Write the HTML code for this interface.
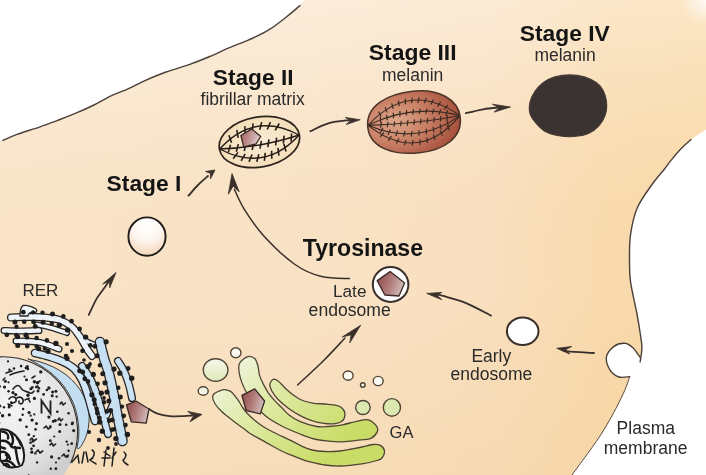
<!DOCTYPE html><html><head><meta charset="utf-8"><style>html,body{margin:0;padding:0;background:#fff;}svg{display:block;will-change:transform;}text{font-family:"Liberation Sans",sans-serif;}</style></head><body>
<svg width="706" height="475" viewBox="0 0 706 475">
<defs>
<linearGradient id="bgx" x1="0" y1="0" x2="706" y2="0" gradientUnits="userSpaceOnUse">
<stop offset="0" stop-color="#f9e4c8"/><stop offset="0.45" stop-color="#f9e2c5"/><stop offset="0.7" stop-color="#f9dfbe"/><stop offset="0.86" stop-color="#f9daad"/><stop offset="1" stop-color="#f9d9a8"/></linearGradient>
<linearGradient id="bgy" x1="0" y1="0" x2="0" y2="475" gradientUnits="userSpaceOnUse">
<stop offset="0" stop-color="#ffffff" stop-opacity="0.34"/><stop offset="0.3" stop-color="#ffffff" stop-opacity="0.08"/><stop offset="0.6" stop-color="#efc585" stop-opacity="0"/><stop offset="1" stop-color="#efc585" stop-opacity="0.2"/></linearGradient>
<radialGradient id="st1" cx="0.5" cy="0.2" r="0.8"><stop offset="0" stop-color="#ffffff"/><stop offset="0.5" stop-color="#fdf6ef"/><stop offset="1" stop-color="#f3d5b8"/></radialGradient>
<linearGradient id="pent" x1="0" y1="0" x2="1" y2="0.3"><stop offset="0" stop-color="#8f4a48"/><stop offset="0.55" stop-color="#b07a78"/><stop offset="1" stop-color="#cdb6b4"/></linearGradient>
<radialGradient id="st3" cx="0.3" cy="0.45" r="0.75"><stop offset="0" stop-color="#dea88a"/><stop offset="0.5" stop-color="#c67c62"/><stop offset="1" stop-color="#a24b38"/></radialGradient>
<linearGradient id="pent2" x1="0" y1="0" x2="1" y2="0.3"><stop offset="0" stop-color="#a45e5c"/><stop offset="0.6" stop-color="#c49a98"/><stop offset="1" stop-color="#dccaca"/></linearGradient>
<radialGradient id="st2" cx="0.5" cy="0.5" r="0.6"><stop offset="0" stop-color="#faecd6"/><stop offset="1" stop-color="#f3dcb4"/></radialGradient>
<linearGradient id="gol" x1="225" y1="365" x2="320" y2="462" gradientUnits="userSpaceOnUse"><stop offset="0" stop-color="#f1f5e2"/><stop offset="0.4" stop-color="#dfeaa6"/><stop offset="1" stop-color="#cadc68"/></linearGradient>
<linearGradient id="golv" x1="0" y1="0" x2="0" y2="1"><stop offset="0" stop-color="#f6f7ea"/><stop offset="1" stop-color="#dfeab8"/></linearGradient>
<radialGradient id="nuc" cx="10" cy="405" r="80" gradientUnits="userSpaceOnUse"><stop offset="0" stop-color="#f4f4f4"/><stop offset="0.55" stop-color="#e8e8e8"/><stop offset="0.85" stop-color="#dadada"/><stop offset="1" stop-color="#cecece"/></radialGradient>
<radialGradient id="tr" cx="706" cy="0" r="26" gradientUnits="userSpaceOnUse"><stop offset="0" stop-color="#ffffff" stop-opacity="0.8"/><stop offset="1" stop-color="#ffffff" stop-opacity="0"/></radialGradient>
</defs>
<rect width="706" height="475" fill="#ffffff"/>
<path d="M0,141 L3,140.4 C5.3,139.4 10.8,136.7 17,134.4 C23.2,132.1 32.8,129.3 40,126.8 C47.2,124.3 53.8,121.8 60,119.5 C66.2,117.2 71.3,115.1 77,112.7 C82.7,110.3 88.3,107.8 94,105 C99.7,102.2 105.3,98.6 111,95.9 C116.7,93.2 122.3,91.5 128,88.9 C133.7,86.4 138.7,83.4 145,80.6 C151.3,77.8 158.5,74.7 166,72 C173.5,69.3 182.5,67 189.8,64.4 C197.1,61.8 203.1,59.3 209.7,56.5 C216.3,53.7 222.9,50.4 229.5,47.6 C236.1,44.8 242.7,42.7 249.3,39.7 C255.9,36.7 262.5,33.8 269.1,29.7 C275.7,25.6 283.9,18.9 289,14.9 C294.1,10.9 298.2,7 300,5.4 L304,0 L706,0 L706,129.5 L699,134 L691,139.5 C689.1,141.2 683.1,146.5 679.8,150 C676.5,153.5 673.6,157.2 671,160.4 C668.4,163.6 667.4,165.3 664.3,169.2 C661.2,173.1 656.9,177.6 652.4,184 C647.9,190.4 640.9,199.3 637.3,207.8 C633.6,216.3 631.8,226.1 630.5,234.8 C629.2,243.5 629.5,252.2 629.5,260 C629.5,267.8 629.3,272.8 630.5,281.6 C631.7,290.4 635.2,304.6 636.8,313 C638.4,321.4 639.2,326.7 640,332 C640.8,337.3 641.5,341.5 641.8,345 C642,348.5 641.8,350.2 641.5,353 C641.2,355.8 640.3,360.5 640.1,362 L639.8,357 C638.6,355.4 635.4,350 632.9,347.7 C630.4,345.4 627.9,343.5 624.7,343.3 C621.6,343.1 617,344.1 614,346.4 C611,348.7 607,353.2 606.4,357.2 C605.8,361.2 608.1,367.1 610.2,370.4 C612.3,373.7 615.8,375.9 619,377 C622.2,378.1 627.9,376.8 629.7,376.7 L629.7,376.7 C628.8,379.2 626.8,385.8 624,392 C621.2,398.2 617,406.7 613,414 C609,421.3 604.8,428.6 600,436 C595.2,443.4 588.7,452 584,458.5 C579.3,465 574,472.2 572,475 L0,475 Z" fill="url(#bgx)"/>
<path d="M0,141 L3,140.4 C5.3,139.4 10.8,136.7 17,134.4 C23.2,132.1 32.8,129.3 40,126.8 C47.2,124.3 53.8,121.8 60,119.5 C66.2,117.2 71.3,115.1 77,112.7 C82.7,110.3 88.3,107.8 94,105 C99.7,102.2 105.3,98.6 111,95.9 C116.7,93.2 122.3,91.5 128,88.9 C133.7,86.4 138.7,83.4 145,80.6 C151.3,77.8 158.5,74.7 166,72 C173.5,69.3 182.5,67 189.8,64.4 C197.1,61.8 203.1,59.3 209.7,56.5 C216.3,53.7 222.9,50.4 229.5,47.6 C236.1,44.8 242.7,42.7 249.3,39.7 C255.9,36.7 262.5,33.8 269.1,29.7 C275.7,25.6 283.9,18.9 289,14.9 C294.1,10.9 298.2,7 300,5.4 L304,0 L706,0 L706,129.5 L699,134 L691,139.5 C689.1,141.2 683.1,146.5 679.8,150 C676.5,153.5 673.6,157.2 671,160.4 C668.4,163.6 667.4,165.3 664.3,169.2 C661.2,173.1 656.9,177.6 652.4,184 C647.9,190.4 640.9,199.3 637.3,207.8 C633.6,216.3 631.8,226.1 630.5,234.8 C629.2,243.5 629.5,252.2 629.5,260 C629.5,267.8 629.3,272.8 630.5,281.6 C631.7,290.4 635.2,304.6 636.8,313 C638.4,321.4 639.2,326.7 640,332 C640.8,337.3 641.5,341.5 641.8,345 C642,348.5 641.8,350.2 641.5,353 C641.2,355.8 640.3,360.5 640.1,362 L639.8,357 C638.6,355.4 635.4,350 632.9,347.7 C630.4,345.4 627.9,343.5 624.7,343.3 C621.6,343.1 617,344.1 614,346.4 C611,348.7 607,353.2 606.4,357.2 C605.8,361.2 608.1,367.1 610.2,370.4 C612.3,373.7 615.8,375.9 619,377 C622.2,378.1 627.9,376.8 629.7,376.7 L629.7,376.7 C628.8,379.2 626.8,385.8 624,392 C621.2,398.2 617,406.7 613,414 C609,421.3 604.8,428.6 600,436 C595.2,443.4 588.7,452 584,458.5 C579.3,465 574,472.2 572,475 L0,475 Z" fill="url(#bgy)"/>
<rect x="670" y="0" width="36" height="30" fill="url(#tr)"/>
<path d="M3,140.4 C5.3,139.4 10.8,136.7 17,134.4 C23.2,132.1 32.8,129.3 40,126.8 C47.2,124.3 53.8,121.8 60,119.5 C66.2,117.2 71.3,115.1 77,112.7 C82.7,110.3 88.3,107.8 94,105 C99.7,102.2 105.3,98.6 111,95.9 C116.7,93.2 122.3,91.5 128,88.9 C133.7,86.4 138.7,83.4 145,80.6 C151.3,77.8 158.5,74.7 166,72 C173.5,69.3 182.5,67 189.8,64.4 C197.1,61.8 203.1,59.3 209.7,56.5 C216.3,53.7 222.9,50.4 229.5,47.6 C236.1,44.8 242.7,42.7 249.3,39.7 C255.9,36.7 262.5,33.8 269.1,29.7 C275.7,25.6 283.9,18.9 289,14.9 C294.1,10.9 298.2,7 300,5.4" fill="none" stroke="#4a4038" stroke-width="1.4" stroke-linecap="round"/>
<path d="M691,139.5 C689.1,141.2 683.1,146.5 679.8,150 C676.5,153.5 673.6,157.2 671,160.4 C668.4,163.6 667.4,165.3 664.3,169.2 C661.2,173.1 656.9,177.6 652.4,184 C647.9,190.4 640.9,199.3 637.3,207.8 C633.6,216.3 631.8,226.1 630.5,234.8 C629.2,243.5 629.5,252.2 629.5,260 C629.5,267.8 629.3,272.8 630.5,281.6 C631.7,290.4 635.2,304.6 636.8,313 C638.4,321.4 639.2,326.7 640,332 C640.8,337.3 641.5,341.5 641.8,345 C642,348.5 641.8,350.2 641.5,353 C641.2,355.8 640.3,360.5 640.1,362" fill="none" stroke="#4a4038" stroke-width="1.4" stroke-linecap="round"/>
<path d="M639.8,357 C638.6,355.4 635.4,350 632.9,347.7 C630.4,345.4 627.9,343.5 624.7,343.3 C621.6,343.1 617,344.1 614,346.4 C611,348.7 607,353.2 606.4,357.2 C605.8,361.2 608.1,367.1 610.2,370.4 C612.3,373.7 615.8,375.9 619,377 C622.2,378.1 627.9,376.8 629.7,376.7" fill="none" stroke="#4a4038" stroke-width="1.4" stroke-linecap="round"/>
<path d="M629.7,376.7 C628.8,379.2 626.8,385.8 624,392 C621.2,398.2 617,406.7 613,414 C609,421.3 604.8,428.6 600,436 C595.2,443.4 588.7,452 584,458.5 C579.3,465 574,472.2 572,475" fill="none" stroke="#5a4c42" stroke-width="1.0" stroke-linecap="round"/>
<path d="M529.3,107.1 C529.5,104.1 530.3,100.4 531.8,97 C533.3,93.6 535.7,89.9 538.5,86.9 C541.3,84 544.7,81.2 548.6,79.3 C552.5,77.4 557.3,76.1 562.1,75.4 C566.9,74.8 572.4,74.8 577.2,75.4 C582,76.1 586.9,77.5 590.7,79.3 C594.5,81.1 597.6,83.3 600,86 C602.4,88.7 603.9,92.1 605,95.3 C606.1,98.5 606.7,102 606.7,105.4 C606.7,108.8 606.3,112.1 605,115.5 C603.7,118.9 601.8,122.6 599.1,125.6 C596.4,128.5 593.2,131.4 589,133.2 C584.8,135 578.9,136.1 573.9,136.5 C568.9,136.9 563.5,136.5 558.7,135.7 C553.9,134.9 549.1,133.6 545.3,131.5 C541.5,129.4 538.5,125.9 536,123.1 C533.5,120.3 531.5,117.4 530.4,114.7 C529.3,112 529.1,110 529.3,107.1Z" fill="#3b3331" stroke="#473a35" stroke-width="1.2"/>
<g transform="translate(414,122.2) rotate(-6)"><path d="M-46.5,0 C-46.5,-22 -22,-31 2,-31 C28,-31 46.5,-18 46.5,0 C46.5,20 28,31 2,31 C-22,31 -46.5,22 -46.5,0Z" fill="url(#st3)" stroke="#4a3328" stroke-width="1.5"/></g>
<g transform="translate(414,120.5) rotate(-6)"><path d="M-46.2,0 Q0,-40.6 46.2,0" fill="none" stroke="#3a2a22" stroke-width="1.1"/><line x1="-32.3" y1="-7.2" x2="-34.2" y2="-12.4" stroke="#3a2a22" stroke-width="1.2"/><line x1="-25.9" y1="-10.9" x2="-27.3" y2="-16.3" stroke="#3a2a22" stroke-width="1.2"/><line x1="-19.5" y1="-13.7" x2="-20.4" y2="-19.3" stroke="#3a2a22" stroke-width="1.2"/><line x1="-13.2" y1="-15.8" x2="-13.4" y2="-21.4" stroke="#3a2a22" stroke-width="1.2"/><line x1="-6.9" y1="-17.1" x2="-6.4" y2="-22.7" stroke="#3a2a22" stroke-width="1.2"/><line x1="-0.6" y1="-17.6" x2="0.6" y2="-23" stroke="#3a2a22" stroke-width="1.2"/><line x1="5.7" y1="-17.2" x2="7.6" y2="-22.5" stroke="#3a2a22" stroke-width="1.2"/><line x1="12.1" y1="-16.1" x2="14.5" y2="-21.1" stroke="#3a2a22" stroke-width="1.2"/><line x1="18.4" y1="-14.2" x2="21.5" y2="-18.9" stroke="#3a2a22" stroke-width="1.2"/><line x1="24.9" y1="-11.4" x2="28.4" y2="-15.7" stroke="#3a2a22" stroke-width="1.2"/><line x1="31.3" y1="-7.8" x2="35.2" y2="-11.8" stroke="#3a2a22" stroke-width="1.2"/><path d="M-46.2,0 Q0,-17.4 46.2,0" fill="none" stroke="#3a2a22" stroke-width="1.1"/><line x1="-33.1" y1="-1.4" x2="-33.4" y2="-7" stroke="#3a2a22" stroke-width="1.2"/><line x1="-26.6" y1="-3" x2="-26.6" y2="-8.6" stroke="#3a2a22" stroke-width="1.2"/><line x1="-20.1" y1="-4.3" x2="-19.8" y2="-9.9" stroke="#3a2a22" stroke-width="1.2"/><line x1="-13.6" y1="-5.2" x2="-13" y2="-10.8" stroke="#3a2a22" stroke-width="1.2"/><line x1="-7.1" y1="-5.8" x2="-6.2" y2="-11.3" stroke="#3a2a22" stroke-width="1.2"/><line x1="-0.6" y1="-6" x2="0.6" y2="-11.4" stroke="#3a2a22" stroke-width="1.2"/><line x1="5.9" y1="-5.8" x2="7.4" y2="-11.2" stroke="#3a2a22" stroke-width="1.2"/><line x1="12.4" y1="-5.3" x2="14.2" y2="-10.6" stroke="#3a2a22" stroke-width="1.2"/><line x1="18.9" y1="-4.5" x2="21" y2="-9.7" stroke="#3a2a22" stroke-width="1.2"/><line x1="25.5" y1="-3.3" x2="27.8" y2="-8.4" stroke="#3a2a22" stroke-width="1.2"/><line x1="32" y1="-1.7" x2="34.5" y2="-6.7" stroke="#3a2a22" stroke-width="1.2"/><path d="M-46.2,0 Q0,3.5 46.2,0" fill="none" stroke="#3a2a22" stroke-width="1.1"/><line x1="-34" y1="3.5" x2="-32.5" y2="-1.9" stroke="#3a2a22" stroke-width="1.2"/><line x1="-27.3" y1="3.9" x2="-25.9" y2="-1.5" stroke="#3a2a22" stroke-width="1.2"/><line x1="-20.6" y1="4.1" x2="-19.3" y2="-1.3" stroke="#3a2a22" stroke-width="1.2"/><line x1="-13.9" y1="4.3" x2="-12.7" y2="-1.1" stroke="#3a2a22" stroke-width="1.2"/><line x1="-7.3" y1="4.4" x2="-6" y2="-1" stroke="#3a2a22" stroke-width="1.2"/><line x1="-0.6" y1="4.5" x2="0.6" y2="-1" stroke="#3a2a22" stroke-width="1.2"/><line x1="6.1" y1="4.4" x2="7.2" y2="-1" stroke="#3a2a22" stroke-width="1.2"/><line x1="12.8" y1="4.3" x2="13.8" y2="-1.2" stroke="#3a2a22" stroke-width="1.2"/><line x1="19.5" y1="4.2" x2="20.5" y2="-1.3" stroke="#3a2a22" stroke-width="1.2"/><line x1="26.1" y1="3.9" x2="27.1" y2="-1.6" stroke="#3a2a22" stroke-width="1.2"/><line x1="32.8" y1="3.6" x2="33.7" y2="-1.9" stroke="#3a2a22" stroke-width="1.2"/><path d="M-46.2,0 Q0,26.1 46.2,0" fill="none" stroke="#3a2a22" stroke-width="1.1"/><line x1="-34.8" y1="8.6" x2="-31.7" y2="4" stroke="#3a2a22" stroke-width="1.2"/><line x1="-27.3" y1="11.4" x2="-24.5" y2="6.5" stroke="#3a2a22" stroke-width="1.2"/><line x1="-19.7" y1="13.5" x2="-17.3" y2="8.4" stroke="#3a2a22" stroke-width="1.2"/><line x1="-12" y1="14.9" x2="-10.1" y2="9.7" stroke="#3a2a22" stroke-width="1.2"/><line x1="-4.4" y1="15.7" x2="-3" y2="10.3" stroke="#3a2a22" stroke-width="1.2"/><line x1="3.2" y1="15.7" x2="4.2" y2="10.2" stroke="#3a2a22" stroke-width="1.2"/><line x1="10.9" y1="15.1" x2="11.3" y2="9.5" stroke="#3a2a22" stroke-width="1.2"/><line x1="18.5" y1="13.8" x2="18.4" y2="8.2" stroke="#3a2a22" stroke-width="1.2"/><line x1="26.1" y1="11.7" x2="25.6" y2="6.2" stroke="#3a2a22" stroke-width="1.2"/><line x1="33.8" y1="9" x2="32.8" y2="3.5" stroke="#3a2a22" stroke-width="1.2"/><path d="M-46.2,0 Q0,44.7 46.2,0" fill="none" stroke="#3a2a22" stroke-width="1.1"/><line x1="-35.3" y1="12.7" x2="-31.2" y2="8.8" stroke="#3a2a22" stroke-width="1.2"/><line x1="-27.7" y1="17.5" x2="-24.1" y2="13.2" stroke="#3a2a22" stroke-width="1.2"/><line x1="-20" y1="21.1" x2="-16.9" y2="16.4" stroke="#3a2a22" stroke-width="1.2"/><line x1="-12.3" y1="23.6" x2="-9.9" y2="18.5" stroke="#3a2a22" stroke-width="1.2"/><line x1="-4.5" y1="24.9" x2="-2.9" y2="19.5" stroke="#3a2a22" stroke-width="1.2"/><line x1="3.3" y1="25" x2="4.1" y2="19.4" stroke="#3a2a22" stroke-width="1.2"/><line x1="11.1" y1="23.8" x2="11" y2="18.2" stroke="#3a2a22" stroke-width="1.2"/><line x1="18.9" y1="21.5" x2="18" y2="16" stroke="#3a2a22" stroke-width="1.2"/><line x1="26.7" y1="18" x2="25.1" y2="12.6" stroke="#3a2a22" stroke-width="1.2"/><line x1="34.4" y1="13.3" x2="32.2" y2="8.2" stroke="#3a2a22" stroke-width="1.2"/></g>
<ellipse cx="259.4" cy="142" rx="40.6" ry="25" transform="rotate(-10 259.4 142)" fill="url(#st2)" stroke="#2e241e" stroke-width="1.7"/>
<g transform="translate(259.4,142) rotate(-10)"><path d="M-40.3,0 Q0,-31.4 40.3,0" fill="none" stroke="#251c17" stroke-width="1.4"/><line x1="-27.6" y1="-4" x2="-28.8" y2="-12" stroke="#251c17" stroke-width="1.6"/><line x1="-20.1" y1="-7.8" x2="-20.2" y2="-15.8" stroke="#251c17" stroke-width="1.6"/><line x1="-12.6" y1="-10.3" x2="-11.6" y2="-18.2" stroke="#251c17" stroke-width="1.6"/><line x1="-5.1" y1="-11.7" x2="-3" y2="-19.4" stroke="#251c17" stroke-width="1.6"/><line x1="2.4" y1="-11.9" x2="5.7" y2="-19.2" stroke="#251c17" stroke-width="1.6"/><line x1="9.9" y1="-10.9" x2="14.3" y2="-17.6" stroke="#251c17" stroke-width="1.6"/><line x1="17.5" y1="-8.8" x2="22.8" y2="-14.8" stroke="#251c17" stroke-width="1.6"/><path d="M-40.3,0 Q0,5.9 40.3,0" fill="none" stroke="#251c17" stroke-width="1.4"/><line x1="-32.4" y1="4.8" x2="-28.9" y2="-2.3" stroke="#251c17" stroke-width="1.6"/><line x1="-24.4" y1="5.6" x2="-21.1" y2="-1.6" stroke="#251c17" stroke-width="1.6"/><line x1="-16.5" y1="6.2" x2="-13.3" y2="-1.1" stroke="#251c17" stroke-width="1.6"/><line x1="-8.5" y1="6.6" x2="-5.6" y2="-0.9" stroke="#251c17" stroke-width="1.6"/><line x1="-0.6" y1="6.7" x2="2.2" y2="-0.8" stroke="#251c17" stroke-width="1.6"/><line x1="7.4" y1="6.6" x2="9.9" y2="-1" stroke="#251c17" stroke-width="1.6"/><line x1="15.4" y1="6.3" x2="17.7" y2="-1.4" stroke="#251c17" stroke-width="1.6"/><line x1="23.3" y1="5.7" x2="25.4" y2="-2" stroke="#251c17" stroke-width="1.6"/><line x1="31.3" y1="5" x2="33.2" y2="-2.8" stroke="#251c17" stroke-width="1.6"/><path d="M-40.3,0 Q0,31.4 40.3,0" fill="none" stroke="#251c17" stroke-width="1.4"/><line x1="-28.7" y1="12" x2="-22.9" y2="6.5" stroke="#251c17" stroke-width="1.6"/><line x1="-21.2" y1="15.4" x2="-16.1" y2="9.2" stroke="#251c17" stroke-width="1.6"/><line x1="-13.7" y1="17.8" x2="-9.4" y2="11" stroke="#251c17" stroke-width="1.6"/><line x1="-6.1" y1="19.1" x2="-2.7" y2="11.9" stroke="#251c17" stroke-width="1.6"/><line x1="1.6" y1="19.4" x2="3.9" y2="11.8" stroke="#251c17" stroke-width="1.6"/><line x1="9.3" y1="18.7" x2="10.5" y2="10.8" stroke="#251c17" stroke-width="1.6"/><line x1="16.9" y1="16.9" x2="17.2" y2="8.9" stroke="#251c17" stroke-width="1.6"/><line x1="24.5" y1="14" x2="23.8" y2="6.1" stroke="#251c17" stroke-width="1.6"/></g>
<path d="M240.9,135.5 L251.8,128.9 L260.7,136.5 L256,144 L243.7,146.9Z" fill="url(#pent2)" stroke="#3a2a26" stroke-width="1.3" stroke-linejoin="round"/>
<ellipse cx="147" cy="236.6" rx="18.6" ry="19.2" fill="url(#st1)" stroke="#1e1a18" stroke-width="1.9"/>
<ellipse cx="390.6" cy="284.5" rx="17.8" ry="17.4" fill="#ffffff" stroke="#3a302b" stroke-width="2"/>
<path d="M390.1,271.6 L404.6,283.1 L399,296 L384.8,295 L377.2,280.6Z" fill="url(#pent)" stroke="#3a2a26" stroke-width="1.3" stroke-linejoin="round"/>
<ellipse cx="522.7" cy="331.2" rx="15.8" ry="13.8" fill="#ffffff" stroke="#3a302b" stroke-width="2"/>
<path d="M310.3,131.2 C313.4,129.9 322.4,125.1 329,123.2 C335.6,121.3 346.5,120.5 350,120" fill="none" stroke="#3a302b" stroke-width="1.8" stroke-linecap="round"/>
<path d="M360.2,119.8 L345.4,117.4 L350.8,120.6 L346,124.6Z" fill="#3a302b" stroke="#3a302b" stroke-width="0.8" stroke-linejoin="round"/>
<path d="M465.8,113.2 C468.7,112.5 477.6,110.3 483.3,109.3 C489,108.3 497.2,107.6 500,107.3" fill="none" stroke="#3a302b" stroke-width="1.8" stroke-linecap="round"/>
<path d="M510.5,107 L492.4,104.2 L499.3,107.7 L494.1,112.1Z" fill="#3a302b" stroke="#3a302b" stroke-width="0.8" stroke-linejoin="round"/>
<path d="M188.5,195.7 C190.1,193.9 194.8,188.3 198,185 C201.2,181.7 206.3,177.5 208,176" fill="none" stroke="#3a302b" stroke-width="1.8" stroke-linecap="round"/>
<path d="M215,170 L205.5,171.5 L210.4,173.3 L210.5,178.8Z" fill="#3a302b" stroke="#3a302b" stroke-width="0.8" stroke-linejoin="round"/>
<path d="M349.4,278.5 C344.8,278.2 330.7,278.9 321.6,276.6 C312.5,274.3 304.7,271.4 295,264.5 C285.3,257.6 271.9,244.7 263.4,235.4 C254.9,226.1 248.8,216.5 244,208.8 C239.2,201.1 236,192.6 234.4,189.4" fill="none" stroke="#3a302b" stroke-width="1.5" stroke-linecap="round"/>
<path d="M232,173.6 L228.3,194.2 L233.1,186.2 L239.2,191.8Z" fill="#3a302b" stroke="#3a302b" stroke-width="0.8" stroke-linejoin="round"/>
<path d="M491,315.6 C486.9,313.6 474.5,306.5 466.7,303.3 C458.9,300.1 449.3,297.7 444,296.2 C438.7,294.7 436.5,294.8 435,294.5" fill="none" stroke="#3a302b" stroke-width="1.8" stroke-linecap="round"/>
<path d="M426.7,293.4 L441.9,292.4 L436.6,295.1 L441.9,299.7Z" fill="#3a302b" stroke="#3a302b" stroke-width="0.8" stroke-linejoin="round"/>
<path d="M594,353 C589.6,352.7 573.1,351.8 567.8,351.3 C562.5,350.8 563,350.2 562,350" fill="none" stroke="#3a302b" stroke-width="1.8" stroke-linecap="round"/>
<path d="M556.8,348.3 L571.7,346.5 L565.8,349.6 L569.7,354Z" fill="#3a302b" stroke="#3a302b" stroke-width="0.8" stroke-linejoin="round"/>
<path d="M297.6,385 C302,380.9 315.8,368.3 323.7,360.5 C331.6,352.7 341.4,341.8 345,338" fill="none" stroke="#3a302b" stroke-width="1.5" stroke-linecap="round"/>
<path d="M360.7,325.2 L342.2,337 L351.1,334.8 L349.8,342.8Z" fill="#3a302b" stroke="#3a302b" stroke-width="0.8" stroke-linejoin="round"/>
<path d="M88.8,314.9 C90.1,312.3 93.7,303.8 96.4,299.1 C99.2,294.4 103,289.7 105.3,286.5 C107.6,283.3 109.2,281.1 110,280" fill="none" stroke="#3a302b" stroke-width="1.8" stroke-linecap="round"/>
<path d="M116,272.6 L102.7,284 L109.6,281.2 L109.7,287.8Z" fill="#3a302b" stroke="#3a302b" stroke-width="0.8" stroke-linejoin="round"/>
<path d="M149,409 C150.3,409.7 153.4,412.1 156.8,413.3 C160.2,414.5 165.1,415.6 169.6,416.1 C174.1,416.6 180,416.2 183.7,416.1 C187.4,416 190.6,415.6 192,415.5" fill="none" stroke="#3a302b" stroke-width="1.8" stroke-linecap="round"/>
<path d="M202,414.4 L187.7,411.4 L193.5,415.8 L190,421.8Z" fill="#3a302b" stroke="#3a302b" stroke-width="0.8" stroke-linejoin="round"/>
<path d="M218,391.5 C219.8,390.7 221.9,389.7 224,389.7 C226.1,389.7 228.6,390.3 230.5,391.4 C232.4,392.5 233.9,394.7 235.3,396.4 C236.7,398.1 237.8,399.8 239.1,401.7 C240.4,403.6 241.4,405.9 242.9,408 C244.4,410.1 246.2,412.3 248.3,414.5 C250.4,416.7 253.1,419 255.5,421 C257.9,423 260.4,424.8 263,426.5 C265.6,428.2 267.9,429.4 271,431 C274.1,432.6 278.1,434.5 281.6,436.2 C285.1,437.9 288.6,439.5 292.1,441.2 C295.6,442.9 299.3,445.1 302.6,446.6 C305.9,448.1 308.3,449.2 312,450 C315.7,450.8 320.3,451.3 325,451.5 C329.7,451.7 335.5,451.4 340,451 C344.5,450.6 348.3,449.7 352,449 C355.7,448.3 358.5,447.8 362,447 C365.5,446.2 369.9,444.7 373,444.5 C376.1,444.3 378.8,444.5 380.7,445.6 C382.6,446.7 384.3,448.9 384.5,451 C384.7,453.1 383.3,456.4 382,458 C380.7,459.6 380.1,459.5 376.8,460.5 C373.5,461.5 368.1,462.9 362,463.8 C355.9,464.7 346.2,465.8 340,466 C333.8,466.2 330,465.7 325,465 C320,464.3 313.7,462.7 310,461.8 C306.3,460.9 305.6,460.7 302.6,459.6 C299.6,458.5 295.5,456.8 292,455.4 C288.5,454 285.1,452.7 281.6,451 C278.1,449.3 274.5,447.2 271,445.3 C267.5,443.4 264,441.4 260.5,439.4 C257,437.4 252.9,435.4 250,433.5 C247.1,431.6 245.3,429.8 242.9,428 C240.5,426.2 237.8,424.4 235.3,422.5 C232.8,420.6 230,418.5 227.7,416.6 C225.4,414.7 223.4,413.3 221.4,411.3 C219.4,409.3 216.9,406.6 215.5,404.5 C214.1,402.4 213.1,400.2 212.8,398.5 C212.5,396.8 212.6,395.7 213.5,394.5 C214.4,393.3 216.2,392.3 218,391.5Z" fill="url(#gol)" stroke="#4f4535" stroke-width="1.3"/>
<path d="M247.7,356.6 C250.3,355.9 253.3,357.2 255,358.8 C256.7,360.4 257.2,363.5 258,366.2 C258.8,368.9 258.6,372.2 259.5,375.1 C260.4,378.1 261.7,380.9 263.2,383.9 C264.7,386.8 266.5,390.1 268.3,392.8 C270.1,395.5 272,397.7 274.2,400.1 C276.4,402.6 279.1,405 281.6,407.5 C284.1,410 286,412.7 289,415 C292,417.3 295.1,419.4 299.7,421.3 C304.3,423.2 311.9,425.6 316.7,426.5 C321.5,427.4 324,426.8 328.3,426.5 C332.6,426.2 337.8,425.7 342.5,424.8 C347.2,423.9 352.4,422.1 356.7,421.3 C360.9,420.5 364.7,419.1 368,419.9 C371.3,420.7 375,424.2 376.5,426.2 C378,428.2 378.1,429.9 377.2,431.9 C376.2,433.9 374.2,436.9 370.8,438.3 C367.4,439.7 361.4,439.8 356.7,440.4 C352,441 347.2,441.7 342.5,441.8 C337.8,441.9 333,441.6 328.3,441.1 C323.6,440.6 318.9,440.2 314.2,439 C309.5,437.8 305.6,436.2 300,434 C294.4,431.8 286.5,428.5 280.8,425.5 C275.1,422.5 270.1,419.6 265.6,416 C261.1,412.4 257.2,408 254,404 C250.8,400 248.2,395.6 246.2,392 C244.2,388.4 243,385.7 241.8,382.4 C240.6,379.1 239.5,375.3 239.1,372.1 C238.7,368.9 238.2,365.9 239.6,363.3 C241,360.7 245.1,357.4 247.7,356.6Z" fill="url(#gol)" stroke="#4f4535" stroke-width="1.3"/>
<path d="M273.5,379.2 C274.9,378.7 276.4,379.8 278.4,381.3 C280.4,382.8 282.9,386 285.5,388.4 C288.1,390.8 291.2,393.5 294,395.5 C296.8,397.5 299.2,399.2 302.5,400.5 C305.8,401.8 310,402.7 313.8,403.3 C317.6,403.9 321.4,403.6 325.2,404 C329,404.4 333.7,404.7 336.5,405.4 C339.3,406.1 340.8,406.8 342.2,408.2 C343.6,409.6 345,411.8 345,413.9 C345,416 344.1,419.4 342.2,421 C340.3,422.6 337,423.4 333.7,423.8 C330.4,424.2 326.1,423.7 322.3,423.1 C318.5,422.5 314.8,421.6 311,420.3 C307.2,419 303.5,417.3 299.7,415.3 C295.9,413.3 291.9,410.8 288.3,408.2 C284.8,405.6 281.1,402.5 278.4,399.7 C275.7,396.9 273.4,393.8 272,391.2 C270.6,388.6 269.6,386.2 269.9,384.2 C270.1,382.2 272.1,379.7 273.5,379.2Z" fill="url(#gol)" stroke="#4f4535" stroke-width="1.3"/>
<ellipse cx="215.6" cy="370" rx="12.3" ry="11.3" fill="url(#golv)" stroke="#4f4535" stroke-width="1.4"/>
<ellipse cx="235.8" cy="352.7" rx="5.2" ry="5" fill="#f8f8ee" stroke="#4f4535" stroke-width="1.4"/>
<ellipse cx="203.2" cy="391" rx="5" ry="4.3" fill="#f4f5e6" stroke="#4f4535" stroke-width="1.4"/>
<ellipse cx="348.1" cy="375.6" rx="5" ry="4.6" fill="#fafaf2" stroke="#4f4535" stroke-width="1.4"/>
<ellipse cx="362.8" cy="385" rx="2.3" ry="2.2" fill="#f8f8ee" stroke="#4f4535" stroke-width="1.4"/>
<ellipse cx="378.2" cy="381" rx="5" ry="4.6" fill="#fafaf2" stroke="#4f4535" stroke-width="1.4"/>
<ellipse cx="362.9" cy="407.5" rx="7.3" ry="7" fill="#dbe8b0" stroke="#4f4535" stroke-width="1.4"/>
<ellipse cx="391.9" cy="407.4" rx="8.6" ry="8.8" fill="#dbe8b0" stroke="#4f4535" stroke-width="1.4"/>
<path d="M241.9,395.4 L254.7,388.9 L264.6,401 L260.3,413.9 L246.1,410.5Z" fill="url(#pent)" stroke="#3a2a26" stroke-width="1.3" stroke-linejoin="round"/>
<circle cx="2.8" cy="431.6" r="74.8" fill="url(#nuc)"/>
<path d="M29.1,359.4 C30.9,359.9 35.9,360.6 39.9,361.8 C43.9,363.1 48.9,364.8 53.3,367 C57.6,369.1 62,371.7 66,374.7 C69.9,377.8 73.7,381.4 76.8,385.3 C80,389.3 82.8,393.8 84.8,398.5 C86.8,403.1 88.3,408.3 88.9,413.3 C89.5,418.3 89,424.1 88.2,428.6 C87.5,433.1 85.8,437 84.4,440.2 C82.9,443.4 80.8,446.7 79.6,447.9 C78.4,449.1 77.3,448.8 77.1,447.4 C76.9,446 78.1,442.6 78.4,439.5 C78.7,436.5 79,432.9 78.8,428.9 C78.5,425 78.1,420.1 77.1,415.8 C76.2,411.5 74.9,407.2 73.3,403.1 C71.6,399.1 69.6,395.1 67.3,391.3 C64.9,387.6 62.2,384 59.3,380.7 C56.3,377.5 53.1,374.4 49.6,371.7 C46.1,369 41.9,366.6 38.5,364.5 C35.1,362.4 30.7,360.1 29.1,359.2 C27.6,358.4 27.3,359 29.1,359.4Z" fill="#c3ddf1" stroke="#3a3a3a" stroke-width="1"/>
<path d="M-2.4,357 A74.8,74.8 0 0 1 70.6,463.2" fill="none" stroke="#2e2e2e" stroke-width="1.1"/>
<g fill="#1f1f1f"><circle cx="35.3" cy="453.4" r="1.2"/><circle cx="24.5" cy="376.5" r="1.1"/><circle cx="72.2" cy="423.8" r="1.5"/><circle cx="54.2" cy="436.5" r="1.1"/><circle cx="50.3" cy="440.7" r="1.4"/><circle cx="30.9" cy="388.8" r="1.5"/><circle cx="73.7" cy="430.6" r="1.6"/><circle cx="59" cy="458.2" r="1.3"/><circle cx="28" cy="395.3" r="1.7"/><circle cx="4" cy="407.2" r="1.2"/><circle cx="11.5" cy="402.9" r="1.4"/><circle cx="-0.1" cy="406.1" r="1.5"/><circle cx="37.1" cy="462.4" r="1.2"/><circle cx="15.7" cy="394.6" r="1.6"/><circle cx="37.5" cy="386.5" r="1.2"/><circle cx="35.5" cy="429.4" r="1.3"/><circle cx="8.6" cy="391.3" r="1.3"/><circle cx="23.1" cy="409" r="1.2"/><circle cx="56.7" cy="396.6" r="1.2"/><circle cx="32.1" cy="420.1" r="1.7"/><circle cx="43.6" cy="394.4" r="1.4"/><circle cx="36.5" cy="423.5" r="1.5"/><circle cx="33.6" cy="445.8" r="1.4"/><circle cx="36.2" cy="387" r="1.3"/><circle cx="30.7" cy="415.7" r="1.1"/><circle cx="30.5" cy="442.7" r="1.3"/><circle cx="60" cy="424.6" r="1.5"/><circle cx="52.2" cy="395.8" r="1.5"/><circle cx="21.1" cy="366.1" r="1.3"/><circle cx="34.4" cy="398.4" r="1.6"/><circle cx="38" cy="390.9" r="1.5"/><circle cx="46.9" cy="390" r="1.3"/><circle cx="56" cy="462.5" r="1.1"/><circle cx="34.3" cy="414.4" r="1.1"/><circle cx="26.2" cy="367.8" r="1.6"/><circle cx="37.6" cy="382.8" r="1.7"/><circle cx="50.3" cy="426.2" r="1.1"/><circle cx="67.9" cy="444.6" r="1.1"/><circle cx="28.8" cy="434.7" r="1.4"/><circle cx="66.7" cy="441.6" r="1.2"/><circle cx="27.3" cy="366.5" r="1.5"/><circle cx="4.5" cy="387.1" r="1.6"/><circle cx="20.2" cy="419.9" r="1.7"/><circle cx="-1.6" cy="406.4" r="1.4"/><circle cx="48.9" cy="388" r="1.7"/><circle cx="26.5" cy="379.8" r="1.5"/><circle cx="72.5" cy="423" r="1.4"/><circle cx="13" cy="392.7" r="1.6"/><circle cx="28.7" cy="398.6" r="1.1"/><circle cx="8.5" cy="382.3" r="1.1"/><circle cx="9.3" cy="414.8" r="1.6"/><circle cx="9.1" cy="405.7" r="1.2"/><circle cx="34.4" cy="381.8" r="1.7"/><circle cx="31.5" cy="448.8" r="1.4"/><circle cx="32.3" cy="387.4" r="1.3"/><circle cx="29.1" cy="412.6" r="1.6"/><circle cx="53.2" cy="421.5" r="1.4"/><circle cx="71.7" cy="443.7" r="1.4"/><circle cx="68.6" cy="413.3" r="1.3"/><circle cx="33.8" cy="436.1" r="1.2"/><circle cx="50.8" cy="468.8" r="1.2"/><circle cx="27.9" cy="368.9" r="1.3"/><circle cx="22.6" cy="414.7" r="1.2"/><circle cx="55.9" cy="468.7" r="1.4"/><circle cx="9.1" cy="407.2" r="1.3"/><circle cx="-0.9" cy="422.9" r="1.2"/><circle cx="26.5" cy="426.8" r="1.4"/><circle cx="5.4" cy="381.3" r="1.5"/><circle cx="40.8" cy="371.9" r="1.7"/><circle cx="48.9" cy="417.1" r="1.6"/><circle cx="-0.2" cy="386.5" r="1.2"/><circle cx="28.7" cy="475.4" r="1.1"/><circle cx="52.6" cy="392" r="1.5"/><circle cx="38.9" cy="388.3" r="1.3"/><circle cx="66.2" cy="424.7" r="1.3"/><circle cx="14" cy="368.5" r="1.3"/><circle cx="55.9" cy="391.3" r="1.5"/><circle cx="9.5" cy="369.8" r="1.3"/><circle cx="-0.4" cy="413" r="1.3"/><circle cx="57.3" cy="411.8" r="1.3"/><circle cx="59.7" cy="431.6" r="1.5"/><circle cx="8" cy="361.4" r="1.1"/><circle cx="32.6" cy="441.4" r="1.3"/><circle cx="31.8" cy="452.2" r="1.6"/><circle cx="55.2" cy="420.6" r="1.7"/><circle cx="51.6" cy="456.9" r="1.6"/><circle cx="68.6" cy="450.8" r="1.2"/><circle cx="67.3" cy="456.4" r="1.4"/><circle cx="2.6" cy="415.7" r="1.7"/></g>
<g fill="none" stroke="#1f1f1f" stroke-width="1.6" stroke-linecap="round" stroke-linejoin="round"><path d="M58,420 l1.4,-2 l1.4,3 l1.9,-2"/><path d="M50,445 l1.7,-2 l1.7,3 l2.2,-2"/><path d="M36,452 l2,-2 l2,3 l2.7,-2"/><path d="M62,456 l1.9,-2 l1.9,3 l2.5,-2"/><path d="M60,404 l1.6,-2 l1.6,3 l2.2,-2"/><path d="M44,428 l2.1,-2 l2.1,3 l2.8,-2"/><path d="M30,440 l1.9,-2 l1.9,3 l2.6,-2"/><path d="M6,373 L12,371 M10,375 C14,373 18,372 24,371 M3,380 L5,378"/><path d="M13,389 C16,385 19,384 21,388 C23,392 27,391 30,393 C32,394 33,392 34,391"/><path d="M9,399 C11,396 15,396 16,399 C17,402 13,404 11,402 M17,398 C20,396 24,398 23,402 C22,405 18,404 19,401 M25,400 C27,398 29,399 30,402 M8,404 L12,406"/><path d="M32,378 L35,376 M37,383 L40,381"/></g>
<g><path d="M0,429.5 C8,428 16,434 21,443 C25,451 25,460 22,465 C18,468 10,468 6,466 C2,463 0,460 0,458 Z" fill="#f2f2f2" stroke="#1a1a1a" stroke-width="2"/><path d="M2,431.5 C6,432 9,434 8,438.5 M0,441 C5,440 9,442 11,446 C13,449 17,447 20,448 M1,452 C5,451 9,454 10,459 M3,461 C8,460 12,462 15,466.5 M10,432 C13,436 14,440 12,444.5 M15,447 C17,452 16,458 19,464 M0,447 L5,448.5 M4,465 C6,463 8,463.5 9,466 M17,438 C19,440 20,443 21,445 M6,455 C8,456 8,458 6,460" fill="none" stroke="#1a1a1a" stroke-width="2.4" stroke-linecap="round"/></g>
<path d="M41.5,413.5 L41.5,400.5 L50.5,413.5 L50.5,400.5" fill="none" stroke="#222" stroke-width="1.9" stroke-linejoin="miter"/>
<path d="M11,317.5 C12.8,317.4 18.5,317.1 22,317 C25.5,316.9 28.2,316.9 32,317 C35.8,317.1 40.3,317 45,317.5 C49.7,318 55.5,318.4 60,320 C64.5,321.6 68.7,324.2 72,327 C75.3,329.8 77.5,333.3 80,337 C82.5,340.7 85,345.8 87,349 C89,352.2 91.2,354.8 92,356" fill="none" stroke="#262626" stroke-width="8.1" stroke-linecap="round" stroke-linejoin="round"/>
<path d="M80,336 C81.3,337 85.8,340.7 88,342 C90.2,343.3 92.2,343.7 93,344" fill="none" stroke="#262626" stroke-width="6.1" stroke-linecap="round" stroke-linejoin="round"/>
<path d="M4,330.5 C6.7,330.6 14.2,331 20,331 C25.8,331 35.8,330.6 39,330.5" fill="none" stroke="#262626" stroke-width="7.1" stroke-linecap="round" stroke-linejoin="round"/>
<path d="M37,324.5 C39.5,325.1 47,326.6 52,328 C57,329.4 64.5,332.2 67,333" fill="none" stroke="#262626" stroke-width="6.1" stroke-linecap="round" stroke-linejoin="round"/>
<path d="M16,341 C20,341.2 32.8,341.2 40,342.5 C47.2,343.8 55.8,347.9 59,349" fill="none" stroke="#262626" stroke-width="7.1" stroke-linecap="round" stroke-linejoin="round"/>
<path d="M35,353 C37.2,353.6 43.5,354.9 48,356.3 C52.5,357.7 57.7,359.3 62,361.3 C66.3,363.3 70.7,365.4 74,368.5 C77.3,371.6 79.7,375.4 82,380 C84.3,384.6 86.2,390.3 88,396 C89.8,401.7 91.8,409.8 93,414 C94.2,418.2 94.7,419.8 95,421" fill="none" stroke="#262626" stroke-width="8.6" stroke-linecap="round" stroke-linejoin="round"/>
<path d="M82,366 C83.3,368 87.7,373.7 90,378 C92.3,382.3 94,386.3 96,392 C98,397.7 100,405 102,412 C104,419 107,430.3 108,434" fill="none" stroke="#262626" stroke-width="8.1" stroke-linecap="round" stroke-linejoin="round"/>
<path d="M100,342 C100.3,343.3 101,347 101.8,350 C102.5,353 103.5,356.7 104.5,360 C105.5,363.3 107,366.7 108,370 C109,373.3 109.7,376.7 110.5,380 C111.3,383.3 112,386.7 112.7,390 C113.4,393.3 114,396 114.8,400 C115.5,404 116.3,409.3 117.2,414 C118.1,418.7 119.1,423.5 120,428 C120.9,432.5 122.1,438.8 122.5,441" fill="none" stroke="#262626" stroke-width="10.6" stroke-linecap="round" stroke-linejoin="round"/>
<path d="M113,402 C112,404.3 108,413.7 107,416" fill="none" stroke="#262626" stroke-width="6.1" stroke-linecap="round" stroke-linejoin="round"/>
<path d="M118,361 C119,362.7 122.2,367 124,371 C125.8,375 127.7,380.5 129,385 C130.3,389.5 131.5,395.8 132,398" fill="none" stroke="#262626" stroke-width="8.1" stroke-linecap="round" stroke-linejoin="round"/>
<path d="M11,317.5 C12.8,317.4 18.5,317.1 22,317 C25.5,316.9 28.2,316.9 32,317 C35.8,317.1 40.3,317 45,317.5 C49.7,318 55.5,318.4 60,320 C64.5,321.6 68.7,324.2 72,327 C75.3,329.8 77.5,333.3 80,337 C82.5,340.7 85,345.8 87,349 C89,352.2 91.2,354.8 92,356" fill="none" stroke="#eef3f9" stroke-width="5.5" stroke-linecap="round" stroke-linejoin="round"/>
<path d="M80,336 C81.3,337 85.8,340.7 88,342 C90.2,343.3 92.2,343.7 93,344" fill="none" stroke="#e4eef7" stroke-width="3.5" stroke-linecap="round" stroke-linejoin="round"/>
<path d="M4,330.5 C6.7,330.6 14.2,331 20,331 C25.8,331 35.8,330.6 39,330.5" fill="none" stroke="#f0f4f8" stroke-width="4.5" stroke-linecap="round" stroke-linejoin="round"/>
<path d="M37,324.5 C39.5,325.1 47,326.6 52,328 C57,329.4 64.5,332.2 67,333" fill="none" stroke="#f0f4f8" stroke-width="3.5" stroke-linecap="round" stroke-linejoin="round"/>
<path d="M16,341 C20,341.2 32.8,341.2 40,342.5 C47.2,343.8 55.8,347.9 59,349" fill="none" stroke="#eef3f8" stroke-width="4.5" stroke-linecap="round" stroke-linejoin="round"/>
<path d="M35,353 C37.2,353.6 43.5,354.9 48,356.3 C52.5,357.7 57.7,359.3 62,361.3 C66.3,363.3 70.7,365.4 74,368.5 C77.3,371.6 79.7,375.4 82,380 C84.3,384.6 86.2,390.3 88,396 C89.8,401.7 91.8,409.8 93,414 C94.2,418.2 94.7,419.8 95,421" fill="none" stroke="#d3e6f5" stroke-width="6" stroke-linecap="round" stroke-linejoin="round"/>
<path d="M82,366 C83.3,368 87.7,373.7 90,378 C92.3,382.3 94,386.3 96,392 C98,397.7 100,405 102,412 C104,419 107,430.3 108,434" fill="none" stroke="#cbe2f4" stroke-width="5.5" stroke-linecap="round" stroke-linejoin="round"/>
<path d="M100,342 C100.3,343.3 101,347 101.8,350 C102.5,353 103.5,356.7 104.5,360 C105.5,363.3 107,366.7 108,370 C109,373.3 109.7,376.7 110.5,380 C111.3,383.3 112,386.7 112.7,390 C113.4,393.3 114,396 114.8,400 C115.5,404 116.3,409.3 117.2,414 C118.1,418.7 119.1,423.5 120,428 C120.9,432.5 122.1,438.8 122.5,441" fill="none" stroke="#c6dff3" stroke-width="8" stroke-linecap="round" stroke-linejoin="round"/>
<path d="M113,402 C112,404.3 108,413.7 107,416" fill="none" stroke="#c9e1f3" stroke-width="3.5" stroke-linecap="round" stroke-linejoin="round"/>
<path d="M118,361 C119,362.7 122.2,367 124,371 C125.8,375 127.7,380.5 129,385 C130.3,389.5 131.5,395.8 132,398" fill="none" stroke="#cde3f4" stroke-width="5.5" stroke-linecap="round" stroke-linejoin="round"/>
<path d="M20,316 C20,311 21,307 23,305.5 C26,305 31,306 36,309 C38,311 36,313 33,313 C30,312 28,313 28,316Z" fill="#f3f6fa" stroke="#262626" stroke-width="1.3" stroke-linejoin="round"/>
<g fill="#1e1e1e"><circle cx="23.3" cy="312.2" r="2.4"/><circle cx="33" cy="312.3" r="2.1"/><circle cx="42.5" cy="312.6" r="2.2"/><circle cx="52.5" cy="313.9" r="2.5"/><circle cx="63.3" cy="316.4" r="2.3"/><circle cx="71.5" cy="321.2" r="2.4"/><circle cx="79.6" cy="328.9" r="2.4"/><circle cx="85.6" cy="337.1" r="2.7"/><circle cx="90.3" cy="345.3" r="2.2"/><circle cx="14.9" cy="322.1" r="2.5"/><circle cx="24.2" cy="321.8" r="2.3"/><circle cx="33.5" cy="321.8" r="2.4"/><circle cx="43" cy="322.2" r="2.5"/><circle cx="51.8" cy="323.4" r="2.2"/><circle cx="59.3" cy="325.1" r="2.7"/><circle cx="67.5" cy="329.9" r="2.6"/><circle cx="82.6" cy="350.8" r="2.4"/><circle cx="16.5" cy="326.6" r="2.1"/><circle cx="35.2" cy="326.3" r="2.4"/><circle cx="6.8" cy="334.8" r="2.4"/><circle cx="16.3" cy="335.1" r="2.3"/><circle cx="26" cy="335.1" r="2.6"/><circle cx="17.6" cy="336.8" r="2.5"/><circle cx="27.1" cy="337.4" r="2.2"/><circle cx="36.6" cy="338" r="2.3"/><circle cx="46.9" cy="340.4" r="2.3"/><circle cx="55.9" cy="343.4" r="2.7"/><circle cx="17.7" cy="345.4" r="2.5"/><circle cx="27.2" cy="346" r="2.4"/><circle cx="36.7" cy="346.6" r="2.2"/><circle cx="44.7" cy="348.6" r="2.1"/><circle cx="38.8" cy="348.8" r="2.5"/><circle cx="48" cy="351.2" r="2.6"/><circle cx="67.1" cy="358.5" r="2.5"/><circle cx="82.6" cy="372.1" r="2.5"/><circle cx="87.9" cy="381.4" r="2.3"/><circle cx="94.2" cy="399.8" r="2.5"/><circle cx="96.8" cy="408.9" r="2.2"/><circle cx="99.4" cy="418.1" r="2.4"/><circle cx="88" cy="366.5" r="2.6"/><circle cx="93.3" cy="374.4" r="2.6"/><circle cx="97.6" cy="383.8" r="2.3"/><circle cx="101.3" cy="393.1" r="2.7"/><circle cx="104" cy="402.2" r="2.2"/><circle cx="106.8" cy="411.4" r="2.3"/><circle cx="109.3" cy="420.6" r="2.3"/><circle cx="111.8" cy="429.8" r="2.2"/><circle cx="79.5" cy="370.9" r="2.4"/><circle cx="84.8" cy="378.8" r="2.4"/><circle cx="91.9" cy="394.8" r="2.6"/><circle cx="94.6" cy="403.9" r="2.1"/><circle cx="97.4" cy="413" r="2.4"/><circle cx="99.8" cy="422.1" r="2.7"/><circle cx="102.3" cy="431.2" r="2.6"/><circle cx="106.1" cy="341.8" r="2.6"/><circle cx="114" cy="369.1" r="2.6"/><circle cx="118.3" cy="387.7" r="2.2"/><circle cx="120.3" cy="397.1" r="2.5"/><circle cx="122" cy="406.6" r="2.2"/><circle cx="123.7" cy="415.8" r="2.4"/><circle cx="125.5" cy="425.1" r="2.3"/><circle cx="127.4" cy="434.5" r="2.7"/><circle cx="94.8" cy="346.3" r="2.4"/><circle cx="97.1" cy="355.7" r="2.5"/><circle cx="100" cy="365.2" r="2.3"/><circle cx="102.8" cy="373.7" r="2.5"/><circle cx="105" cy="382.8" r="2.6"/><circle cx="107" cy="392" r="2.6"/><circle cx="108.9" cy="401.1" r="2.5"/><circle cx="110.5" cy="410.5" r="2.5"/><circle cx="112.3" cy="420" r="2.4"/><circle cx="114.1" cy="429.2" r="2.2"/><circle cx="115.9" cy="438.6" r="2.7"/><circle cx="128.1" cy="368.5" r="2.4"/><circle cx="131.7" cy="378.3" r="2.7"/><circle cx="119.8" cy="373.2" r="2.6"/><circle cx="67" cy="344" r="2"/><circle cx="72" cy="351" r="2.1"/><circle cx="66" cy="356" r="2.3"/><circle cx="84" cy="360" r="1.8"/><circle cx="90" cy="364" r="1.9"/><circle cx="104" cy="398" r="1.9"/><circle cx="108" cy="448" r="1.9"/><circle cx="116" cy="444" r="1.9"/><circle cx="99" cy="440" r="2.2"/><circle cx="89" cy="432" r="2.1"/></g>
<path d="M126.4,404.8 L136.3,401.2 L149,409 L146.2,423.2 L131.3,421.8Z" fill="url(#pent)" stroke="#3a2a26" stroke-width="1.3" stroke-linejoin="round"/>
<g fill="none" stroke="#1e1e1e" stroke-width="1.5" stroke-linecap="round"><path d="M72,462 L78,455 M78,456 L79,463 M84,452 L82,463 M86,452 L88,462 M92,450 C96,452 94,458 90,460 C92,462 95,463 96,464"/><path d="M106,450 L104,466 M104,452 L110,456 M102,458 L110,458 M114,448 L112,466 M116,452 L112,458 M124,452 C127,454 126,458 123,460 C124,463 126,464 128,465"/></g>
<text x="212.8" y="84.9" font-size="22.7" font-weight="bold" fill="#141414" text-anchor="start">Stage II</text>
<text x="200.6" y="105" font-size="17.5" fill="#2a2a2a" text-anchor="start">fibrillar matrix</text>
<text x="368.8" y="60.3" font-size="22.9" font-weight="bold" fill="#141414" text-anchor="start">Stage III</text>
<text x="382" y="81" font-size="17.5" fill="#2a2a2a" text-anchor="start">melanin</text>
<text x="519.8" y="40.6" font-size="22.8" font-weight="bold" fill="#141414" text-anchor="start">Stage IV</text>
<text x="534.4" y="61.3" font-size="17.5" fill="#2a2a2a" text-anchor="start">melanin</text>
<text x="106.6" y="191.4" font-size="22.8" font-weight="bold" fill="#141414" text-anchor="start">Stage I</text>
<text x="302.8" y="255.8" font-size="23.1" font-weight="bold" fill="#141414" text-anchor="start">Tyrosinase</text>
<text x="333" y="296.7" font-size="17.2" fill="#2a2a2a" text-anchor="start">Late</text>
<text x="308.6" y="316.1" font-size="17.6" fill="#2a2a2a" text-anchor="start">endosome</text>
<text x="471.4" y="362.2" font-size="17.5" fill="#2a2a2a" text-anchor="start">Early</text>
<text x="450.6" y="380" font-size="17.5" fill="#2a2a2a" text-anchor="start">endosome</text>
<text x="22.4" y="295.5" font-size="17" fill="#2a2a2a" text-anchor="start">RER</text>
<text x="389.6" y="438.3" font-size="16.5" fill="#2a2a2a" text-anchor="start">GA</text>
<text x="616.6" y="434" font-size="17.5" fill="#2a2a2a" text-anchor="start">Plasma</text>
<text x="603.8" y="454" font-size="17.5" fill="#2a2a2a" text-anchor="start">membrane</text>
</svg></body></html>
